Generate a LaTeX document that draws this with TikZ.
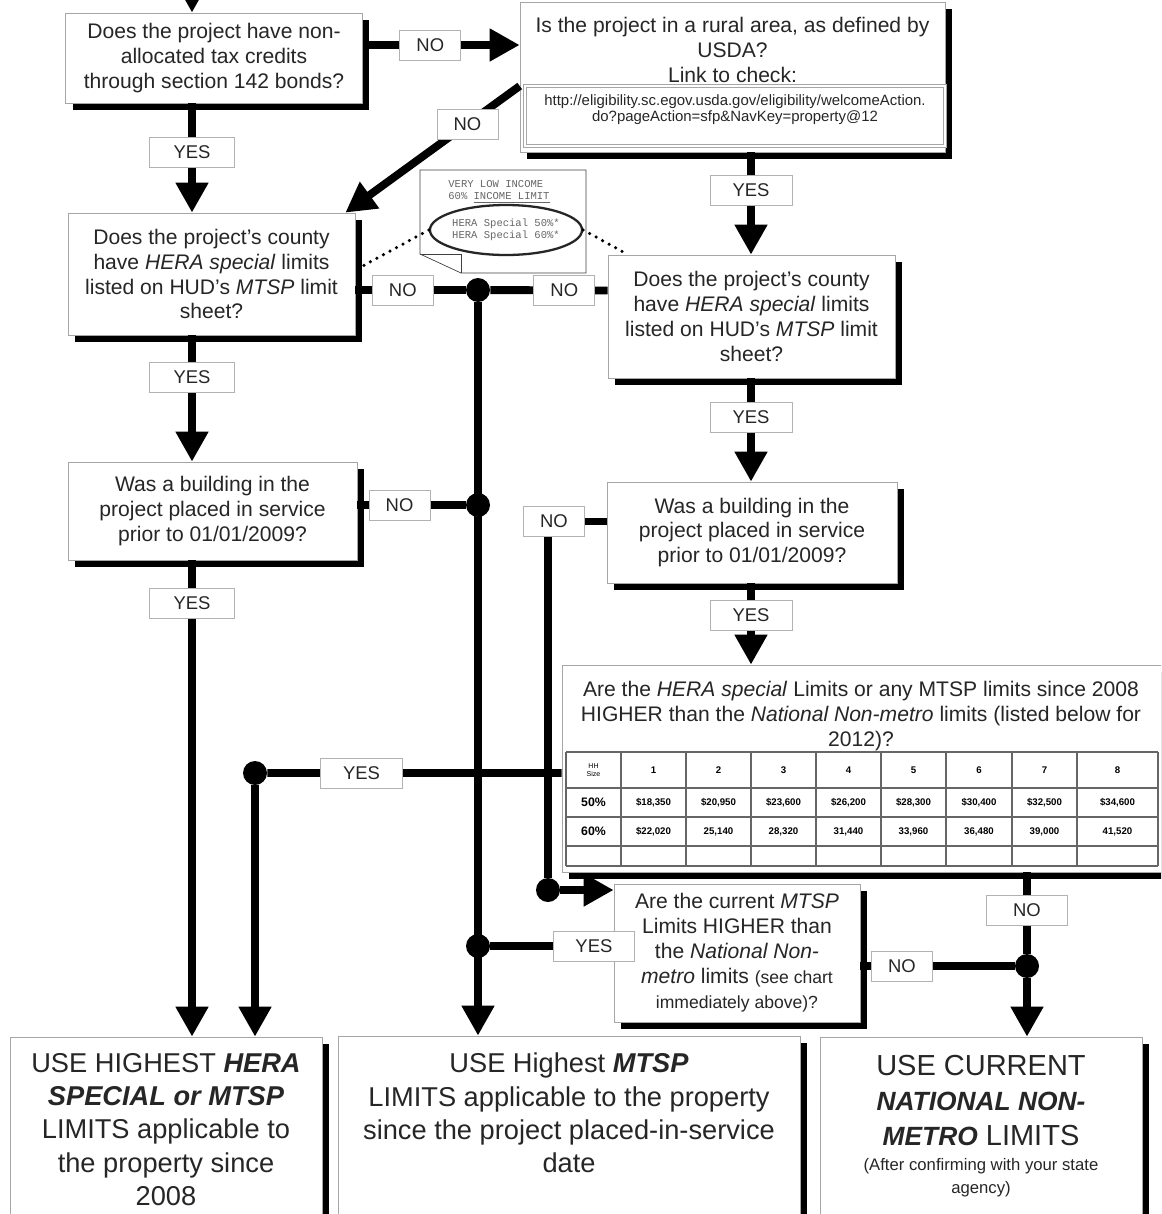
\documentclass[tikz,border=0pt]{standalone}
\usepackage{fontspec}
\setmainfont{Liberation Sans}
\setmonofont{Liberation Mono}
\usetikzlibrary{positioning, arrows.meta, calc, shapes.geometric, shadows}

\begin{document}
\begin{tikzpicture}[
  x=0.02cm, y=-0.02cm,
  every node/.style={font=\fontsize{12}{14.2}\selectfont, text=black!85},
  box/.style={draw=gray!70, fill=white, thin, align=center, inner sep=2pt,
    drop shadow={shadow xshift=0.14cm, shadow yshift=-0.14cm, fill=black, opacity=1}},
  bigtext/.style={align=center, inner sep=0pt, font=\fontsize{15.5}{19}\selectfont},
  yn/.style={draw=gray!60, fill=white, thin, minimum width=1.22cm, minimum height=0.6cm,
    inner sep=1pt, font=\fontsize{10.5}{12}\selectfont},
  flow/.style={line width=4.5pt},
  arr/.style={flow, -{Triangle[length=0.6cm, width=0.62cm]}},
  dot/.style={circle, fill=black, minimum size=0.48cm, inner sep=0pt},
  dotline/.style={line width=2pt, dash pattern=on 0pt off 4.2pt, line cap=round},
  cell/.style={inner sep=0pt, font=\fontsize{5.5}{6}\selectfont\bfseries, text=black},
  tabline/.style={draw=black!60, line width=0.6pt}
]
\useasboundingbox (0,0) rectangle (1161,1214);
\clip (0,0) rectangle (1161,1214);

\coordinate (top) at (192,-25);
\coordinate (colL) at (192,0);
\coordinate (colR) at (751,0);
\coordinate (colK) at (1027,0);

\node[box, minimum width=5.94cm, minimum height=1.8cm] (A) at (214,58)
  {Does the project have non-\\allocated tax credits\\through section 142 bonds?};
\node[box, minimum width=8.5cm, minimum height=3cm] (B) at (732.5,77) {};
\node[below=0.3cm of B.north, align=center, inner sep=0pt] (Bq)
  {Is the project in a rural area, as defined by\\USDA?\\Link to check:};
\node[draw=gray!70, double=white, double distance=1pt, minimum width=8.4cm,
  minimum height=1.2cm, align=center, inner sep=1pt,
  font=\fontsize{8.5}{9.1}\selectfont] (Blink) at (735,116)
  {http://eligibility.sc.egov.usda.gov/eligibility/welcomeAction.\\do?pageAction=sfp\&NavKey=property@12\\\mbox{}};
\node[box, minimum width=5.74cm, minimum height=2.44cm] (C) at (211.5,274)
  {Does the project's county\\have \textit{HERA special} limits\\listed on HUD's \textit{MTSP} limit\\sheet?};
\node[box, minimum width=5.74cm, minimum height=2.46cm] (D) at (751.5,316.5)
  {Does the project's county\\have \textit{HERA special} limits\\listed on HUD's \textit{MTSP} limit\\sheet?};
\node[box, minimum width=5.78cm, minimum height=1.96cm] (E2) at (212.5,511)
  {Was a building in the\\project placed in service\\prior to 01/01/2009?};
\node[box, minimum width=5.8cm, minimum height=2.02cm] (E) at (752,532.5)
  {Was a building in the\\project placed in service\\prior to 01/01/2009?};
\node[box, minimum width=12.26cm, minimum height=4.14cm] (F) at (868.5,768.5) {};
\node[below=0.32cm of F.north, xshift=-0.15cm, align=center, inner sep=0pt] (Fq)
  {Are the \textit{HERA special} Limits or any MTSP limits since 2008\\HIGHER than the \textit{National Non-metro} limits (listed below for\\2012)?};
\node[box, minimum width=4.92cm, minimum height=2.76cm] (H) at (737,953)
  {Are the current \textit{MTSP}\\Limits HIGHER than\\the \textit{National Non-}\\\textit{metro} limits {\fontsize{10}{12}\selectfont(see chart}\\{\fontsize{10}{12}\selectfont immediately above)?}};

\node[box, minimum width=6.24cm, minimum height=4.06cm] (L) at (166,1138.5) {};
\node[bigtext, below=0.32cm of L.north] (Lt)
  {USE HIGHEST \textbf{\textit{HERA}}\\\textbf{\textit{SPECIAL or MTSP}}\\LIMITS applicable to\\the property since\\2008};
\node[box, minimum width=9.24cm, minimum height=4.06cm] (M) at (569,1137.5) {};
\node[bigtext, below=0.34cm of M.north] (Mt)
  {USE Highest \textbf{\textit{MTSP}}\\LIMITS applicable to the property\\since the project placed-in-service\\date};
\node[box, minimum width=6.44cm, minimum height=4.06cm] (K) at (981,1138.5) {};
\node[bigtext, font=\fontsize{16.5}{20}\selectfont, below=0.36cm of K.north] (Kt)
  {USE CURRENT\\{\fontsize{15}{20}\selectfont\bfseries\itshape NATIONAL NON-}\\{\fontsize{15}{20}\selectfont\bfseries\itshape METRO} LIMITS};
\node[align=center, inner sep=0pt, font=\fontsize{9.5}{13}\selectfont, below=0.24cm of Kt] (Ks)
  {(After confirming with your state\\agency)};

\foreach \cx in {566,621,686,751,816,881,946,1012,1077,1158}
  \draw[tabline] (\cx,752) -- (\cx,866);
\foreach \ry in {752,788,817,846,866}
  \draw[tabline] (566,\ry) -- (1158,\ry);
\node[cell, font=\fontsize{4}{4.5}\selectfont, align=center] (hh) at (593.5,770) {HH\\Size};
\node[cell, font=\fontsize{7}{8}\selectfont\bfseries] (r50) at (593.5,802.5) {50\%};
\node[cell, font=\fontsize{7}{8}\selectfont\bfseries] (r60) at (593.5,831.5) {60\%};
\foreach \cx/\hs/\lo/\hi [count=\i] in {653.5/1/{\$18,350}/{\$22,020}, 718.5/2/{\$20,950}/{25,140},
    783.5/3/{\$23,600}/{28,320}, 848.5/4/{\$26,200}/{31,440}, 913.5/5/{\$28,300}/{33,960},
    979/6/{\$30,400}/{36,480}, 1044.5/7/{\$32,500}/{39,000}, 1117.5/8/{\$34,600}/{41,520}}{
  \node[cell] (h\i) at (\cx,770) {\hs};
  \node[cell] (p\i) at (\cx,802.5) {\lo};
  \node[cell] (q\i) at (\cx,831.5) {\hi};
}

\draw[draw=black!75, fill=white] (420,170) -- (586,170) -- (586,273) -- (461,273)
  -- (420,254) -- cycle;
\draw[draw=black!75] (420,254) -- (461,254) -- (461,273);
\node[anchor=north west, inner sep=0pt, align=left, text=black!60,
  font=\ttfamily\fontsize{6}{7}\selectfont] (note) at (448,180)
  {VERY LOW INCOME\\60\% \underline{INCOME LIMIT}};
\node[ellipse, draw=black!85, line width=1.3pt, minimum width=2.86cm, minimum height=1cm,
  inner sep=0pt, align=left, text=black!60, font=\ttfamily\fontsize{6}{7}\selectfont] (ell)
  at (506,230) {HERA Special 50\%*\\HERA Special 60\%*};
\draw[dotline] (ell.west) -- ($(C.east)+(0,-4)$);
\draw[dotline] (ell.east) -- ($(D.north west)+(15,-3)$);

\node[dot] (J1) at (478,290) {};
\node[dot] (J2) at (478,505) {};
\node[dot] (J3) at (478,946) {};
\node[dot] (J4) at (255,773) {};
\node[dot] (J5) at (548,890) {};
\node[dot] (J6) at (1027,966) {};

\draw[arr] (top) -- (A.north -| top);
\draw[arr] ($(A.east)+(0,-13)$) -- node[yn, pos=0.43] (nA) {NO} ($(B.west)+(0,-32)$);
\draw[arr] (A.south -| colL) -- node[yn, pos=0.45, minimum width=1.7cm] (yA) {YES} (C.north -| colL);
\draw[arr] ($(B.west)+(0,9)$) -- node[yn, pos=0.3] (nB) {NO} ($(C.north east)+(-10,0)$);
\draw[arr] (B.south -| colR) -- node[yn, pos=0.37, minimum width=1.64cm] (yB) {YES} (D.north -| colR);
\draw[flow] ($(C.east)+(0,16)$) -- node[yn, pos=0.43] (nC) {NO} (J1);
\draw[flow] ($(D.west)+(0,-26)$) -- node[yn, pos=0.37] (nD) {NO} (J1);
\draw[arr] (J1) -- (M.north -| J1);
\draw[arr] (C.south -| colL) -- node[yn, pos=0.33, minimum width=1.7cm] (yC) {YES} (E2.north -| colL);
\draw[flow] ($(E2.east)+(0,-6)$) -- node[yn, pos=0.39] (nE2) {NO} (J2);
\draw[arr] (E2.south -| colL) -- node[yn, pos=0.09, minimum width=1.7cm] (yE2) {YES} (L.north -| colL);
\draw[arr] (D.south -| colR) -- node[yn, pos=0.375, minimum width=1.64cm] (yD) {YES} (E.north -| colR);
\draw[flow] ($(E.west)+(0,-11)$) -| node[yn, pos=0.5, xshift=0.12cm] (nE) {NO} (J5);
\draw[arr] (J5) -- (J5 -| H.west);
\draw[arr] (E.south -| colR) -- node[yn, pos=0.39, minimum width=1.64cm] (yE) {YES} (F.north -| colR);
\draw[flow] ($(F.west)+(0,4.5)$) -- node[yn, pos=0.68, minimum width=1.64cm] (yF) {YES} (J4);
\draw[arr] (J4) -- (L.north -| J4);
\draw[flow] (F.south -| colK) -- node[yn, pos=0.47, minimum width=1.62cm] (nF) {NO} (J6);
\draw[arr] (J6) -- (K.north -| J6);
\draw[flow] ($(H.west)+(0,-7)$) -- node[yn, pos=0.16, minimum width=1.62cm] (yH) {YES} (J3);
\draw[flow] ($(H.east)+(0,13)$) -- node[yn, pos=0.27] (nH) {NO} (J6);
\end{tikzpicture}
\end{document}
